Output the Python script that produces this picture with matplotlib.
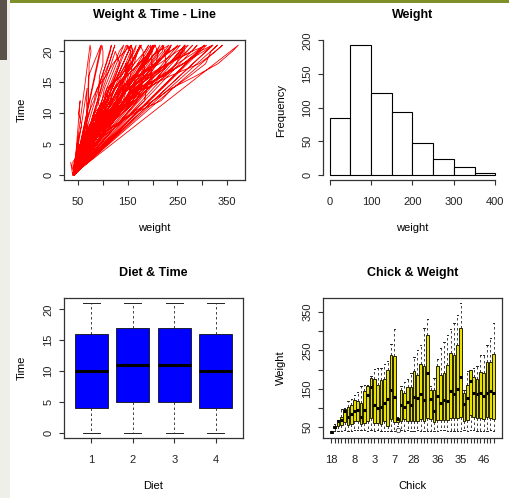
"""ChickWeight overview: four R-style base graphics panels."""

import numpy as np
import matplotlib
matplotlib.use("Agg")
import matplotlib.pyplot as plt
from matplotlib.patches import Rectangle

plt.rcParams["font.family"] = ["Liberation Sans", "DejaVu Sans"]

W, H = 510, 498

# ChickWeight data: measurement days, and body weights per chick, grouped by diet
times = [0, 2, 4, 6, 8, 10, 12, 14, 16, 18, 20, 21]

diet1_chicks = list(range(1, 21))
diet1_weights = [
    [42, 51, 59, 64, 76, 93, 106, 125, 149, 171, 199, 205],
    [40, 49, 58, 72, 84, 103, 122, 138, 162, 187, 209, 215],
    [43, 39, 55, 67, 84, 99, 115, 138, 163, 187, 198, 202],
    [42, 49, 56, 67, 74, 87, 102, 108, 136, 154, 160, 157],
    [41, 42, 48, 60, 79, 106, 141, 164, 197, 199, 220, 223],
    [41, 49, 59, 74, 97, 124, 141, 148, 155, 160, 160, 157],
    [41, 49, 57, 71, 89, 112, 146, 174, 218, 250, 288, 305],
    [42, 50, 61, 71, 84, 93, 110, 116, 126, 134, 125],
    [42, 51, 59, 68, 85, 96, 90, 92, 93, 100, 100, 98],
    [41, 44, 52, 63, 74, 81, 89, 96, 101, 112, 120, 124],
    [43, 51, 63, 84, 112, 139, 168, 177, 182, 184, 181, 175],
    [41, 49, 56, 62, 72, 88, 119, 135, 162, 185, 195, 205],
    [41, 48, 53, 60, 65, 67, 71, 70, 71, 81, 91, 96],
    [41, 49, 62, 79, 101, 128, 164, 192, 227, 248, 259, 266],
    [41, 49, 56, 64, 68, 68, 67, 68],
    [41, 45, 49, 51, 57, 51, 54],
    [42, 51, 61, 72, 83, 89, 98, 103, 113, 123, 133, 142],
    [39, 35],
    [43, 48, 55, 62, 65, 71, 82, 88, 106, 120, 144, 157],
    [41, 47, 54, 58, 65, 73, 77, 89, 98, 107, 115, 117],
]

diet2_chicks = list(range(21, 31))
diet2_weights = [
    [40, 50, 62, 86, 125, 163, 217, 240, 275, 307, 318, 331],
    [41, 55, 64, 77, 90, 95, 108, 111, 131, 148, 164, 167],
    [43, 52, 61, 73, 90, 103, 127, 135, 145, 163, 170, 175],
    [42, 52, 58, 74, 66, 68, 70, 71, 72, 72, 76, 74],
    [40, 49, 62, 78, 102, 124, 146, 164, 197, 231, 259, 265],
    [42, 48, 57, 74, 93, 114, 136, 147, 169, 205, 236, 251],
    [39, 46, 58, 73, 87, 100, 115, 123, 144, 163, 185, 192],
    [39, 46, 58, 73, 92, 114, 145, 156, 184, 207, 212, 233],
    [39, 48, 59, 74, 87, 106, 134, 150, 187, 230, 279, 309],
    [42, 48, 59, 72, 85, 98, 115, 122, 143, 151, 157, 150],
]

diet3_chicks = list(range(31, 41))
diet3_weights = [
    [42, 53, 62, 73, 85, 102, 123, 138, 170, 204, 235, 256],
    [41, 49, 65, 82, 107, 129, 159, 179, 221, 263, 291, 305],
    [39, 50, 63, 77, 96, 111, 137, 144, 151, 146, 156, 147],
    [41, 49, 63, 85, 107, 134, 164, 186, 235, 294, 327, 341],
    [41, 53, 64, 87, 123, 158, 201, 238, 287, 332, 361, 373],
    [39, 48, 61, 76, 98, 116, 145, 166, 198, 227, 225, 220],
    [41, 48, 56, 68, 80, 83, 103, 112, 135, 157, 169, 178],
    [41, 49, 61, 74, 98, 109, 128, 154, 192, 232, 280, 290],
    [42, 50, 61, 78, 89, 109, 130, 146, 170, 214, 250, 272],
    [41, 55, 66, 79, 101, 120, 154, 182, 215, 262, 295, 321],
]

diet4_chicks = list(range(41, 51))
diet4_weights = [
    [42, 51, 66, 85, 103, 124, 155, 153, 175, 184, 199, 204],
    [42, 49, 63, 84, 103, 126, 160, 174, 204, 234, 269, 281],
    [42, 55, 69, 96, 131, 157, 184, 188, 197, 198, 199, 200],
    [42, 51, 65, 86, 103, 118, 127, 138, 145, 146],
    [41, 50, 61, 78, 98, 117, 135, 141, 147, 174, 197, 196],
    [40, 52, 62, 82, 101, 120, 144, 156, 173, 210, 231, 238],
    [41, 53, 66, 79, 100, 123, 148, 157, 168, 185, 210, 205],
    [39, 50, 62, 80, 104, 125, 154, 170, 222, 261, 303, 322],
    [40, 53, 64, 85, 108, 128, 152, 166, 184, 203, 233, 237],
    [41, 54, 67, 84, 105, 122, 155, 175, 205, 234, 264, 264],
]

diet_labels = ["1", "2", "3", "4"]
hist_edges = list(range(0, 401, 50))
weight_ticks = list(range(50, 351, 50))
weight_ticklabels = ["50", "", "150", "", "250", "", "350"]
chick_label_shown = ["18", "8", "3", "7", "28", "36", "35", "46"]


def fivenum_stats(values):
    """R boxplot.stats: Tukey hinges, whiskers at 1.5 * IQR."""
    x = np.sort(np.asarray(values, dtype=float))
    n = len(x)
    n4 = np.floor((n + 3) / 2) / 2
    d = np.array([1, n4, (n + 1) / 2, n + 1 - n4, n]) - 1
    five = 0.5 * (x[np.floor(d).astype(int)] + x[np.ceil(d).astype(int)])
    iqr = five[3] - five[1]
    lo, hi = five[1] - 1.5 * iqr, five[3] + 1.5 * iqr
    inside = x[(x >= lo) & (x <= hi)]
    return dict(med=five[2], q1=five[1], q3=five[3],
                whislo=inside.min(), whishi=inside.max(),
                fliers=x[(x < lo) | (x > hi)])


def px_axes(fig, x0, y0, x1, y1):
    return fig.add_axes([x0 / W, 1 - y1 / H, (x1 - x0) / W, (y1 - y0) / H])


def r_style(ax, h, w, title, xlabel, ylabel):
    for s in ax.spines.values():
        s.set_linewidth(0.9)
        s.set_color("#333333")
    ax.tick_params(axis="both", direction="out", length=3.6, width=0.8,
                   color="#333333", labelsize=8, labelcolor="#222222")
    ax.tick_params(axis="x", pad=8.5)
    ax.tick_params(axis="y", pad=4, labelrotation=90)
    for lab in ax.get_yticklabels():
        lab.set_va("center")
    ax.set_title(title, fontsize=9, fontweight="bold", y=1 + 25 / h, va="center", pad=0)
    ax.set_xlabel(xlabel, fontsize=8)
    ax.set_ylabel(ylabel, fontsize=8)
    ax.xaxis.set_label_coords(0.5, -48 / h)
    ax.yaxis.set_label_coords(-42 / w, 0.5)
    ax.xaxis.label.set_va("center")
    ax.yaxis.label.set_va("center")


def padded(lo, hi):
    r = hi - lo
    return lo - 0.04 * r, hi + 0.04 * r


# flatten into long-format columns, in dataset row order
all_chicks = diet1_chicks + diet2_chicks + diet3_chicks + diet4_chicks
all_groups = diet1_weights + diet2_weights + diet3_weights + diet4_weights
all_diets = [1] * 20 + [2] * 10 + [3] * 10 + [4] * 10
weight, time, diet = [], [], []
for ws, dt in zip(all_groups, all_diets):
    weight += ws
    time += times[:len(ws)]
    diet += [dt] * len(ws)
weight = np.array(weight)
time = np.array(time)
diet = np.array(diet)

fig = plt.figure(figsize=(W / 100, H / 100), dpi=100)

# page decoration around the charts
fig.add_artist(Rectangle((0, 0), 10 / W, 1, transform=fig.transFigure,
                         color="#efefe9", lw=0, zorder=-5))
fig.add_artist(Rectangle((0, 1 - 60 / H), 7 / W, 60 / H, transform=fig.transFigure,
                         color="#5b524a", lw=0, zorder=-4))
fig.add_artist(Rectangle((10 / W, 1 - 3 / H), 1 - 10 / W, 3 / H, transform=fig.transFigure,
                         color="#7f8f2a", lw=0, zorder=-4))

# --- top left: Time against weight, drawn as one line in row order
ax1 = px_axes(fig, 64, 40, 245, 180)
ax1.plot(weight, time, color="red", lw=0.6)
ax1.set_xlim(*padded(weight.min(), weight.max()))
ax1.set_ylim(*padded(time.min(), time.max()))
ax1.set_xticks(weight_ticks)
ax1.set_xticklabels(weight_ticklabels)
ax1.set_yticks(range(0, 21, 5))
r_style(ax1, 140, 181, "Weight & Time - Line", "weight", "Time")

# --- top right: histogram of weight, R right-closed bins
ax2 = px_axes(fig, 323, 40, 502, 180)
edges = np.array(hist_edges)
idx = np.searchsorted(edges, weight, side="left") - 1
counts = np.bincount(idx, minlength=len(edges) - 1)
ax2.bar(edges[:-1], counts, width=50, align="edge", facecolor="white",
        edgecolor="black", lw=0.8)
ax2.set_xlim(*padded(edges[0], edges[-1]))
ax2.set_ylim(*padded(0, counts.max()))
ax2.set_xticks(range(0, 401, 100))
ax2.set_yticks(range(0, 201, 50))
r_style(ax2, 140, 179, "Weight", "weight", "Frequency")
ax2.spines["top"].set_visible(False)
ax2.spines["right"].set_visible(False)
ax2.spines["left"].set_bounds(0, 200)
ax2.spines["bottom"].set_bounds(0, 400)

box_kw = dict(widths=0.8, capwidths=0.4, patch_artist=True, manage_ticks=False,
              medianprops=dict(color="black", lw=2.2, solid_capstyle="butt"),
              whiskerprops=dict(color="#222222", lw=0.6, linestyle=(0, (3, 3))),
              capprops=dict(color="#222222", lw=0.7),
              flierprops=dict(marker="o", mfc="none", mec="#222222", ms=3.2, mew=0.5))

# --- bottom left: Time by Diet
ax3 = px_axes(fig, 64, 298, 243, 438)
diet_stats = [fivenum_stats(time[diet == k]) for k in range(1, 5)]
ax3.bxp(diet_stats, positions=range(1, 5),
        boxprops=dict(facecolor="blue", edgecolor="#111111", lw=0.6), **box_kw)
ax3.set_xlim(*padded(0.5, 4.5))
ax3.set_ylim(*padded(time.min(), time.max()))
ax3.set_xticks(range(1, 5))
ax3.set_xticklabels(diet_labels)
ax3.set_yticks(range(0, 21, 5))
r_style(ax3, 140, 179, "Diet & Time", "Diet", "Time")

# --- bottom right: weight by Chick, chicks ordered by diet then max weight
ax4 = px_axes(fig, 323, 298, 502, 438)
order = sorted(range(len(all_chicks)),
               key=lambda i: (all_diets[i], max(all_groups[i])))
chick_stats = [fivenum_stats(all_groups[i]) for i in order]
positions = list(range(1, len(order) + 1))
ax4.bxp(chick_stats, positions=positions,
        boxprops=dict(facecolor="#e8e000", edgecolor="#222200", lw=0.7), **box_kw)
ax4.set_xlim(*padded(0.5, len(order) + 0.5))
ax4.set_ylim(*padded(weight.min(), weight.max()))
ax4.set_xticks(positions)
ax4.set_xticklabels([str(all_chicks[i]) if str(all_chicks[i]) in chick_label_shown else ""
                     for i in order])
ax4.set_yticks(weight_ticks)
ax4.set_yticklabels(weight_ticklabels)
r_style(ax4, 140, 179, "Chick & Weight", "Chick", "Weight")

fig.savefig("out.png", dpi=100)
plt.close(fig)
